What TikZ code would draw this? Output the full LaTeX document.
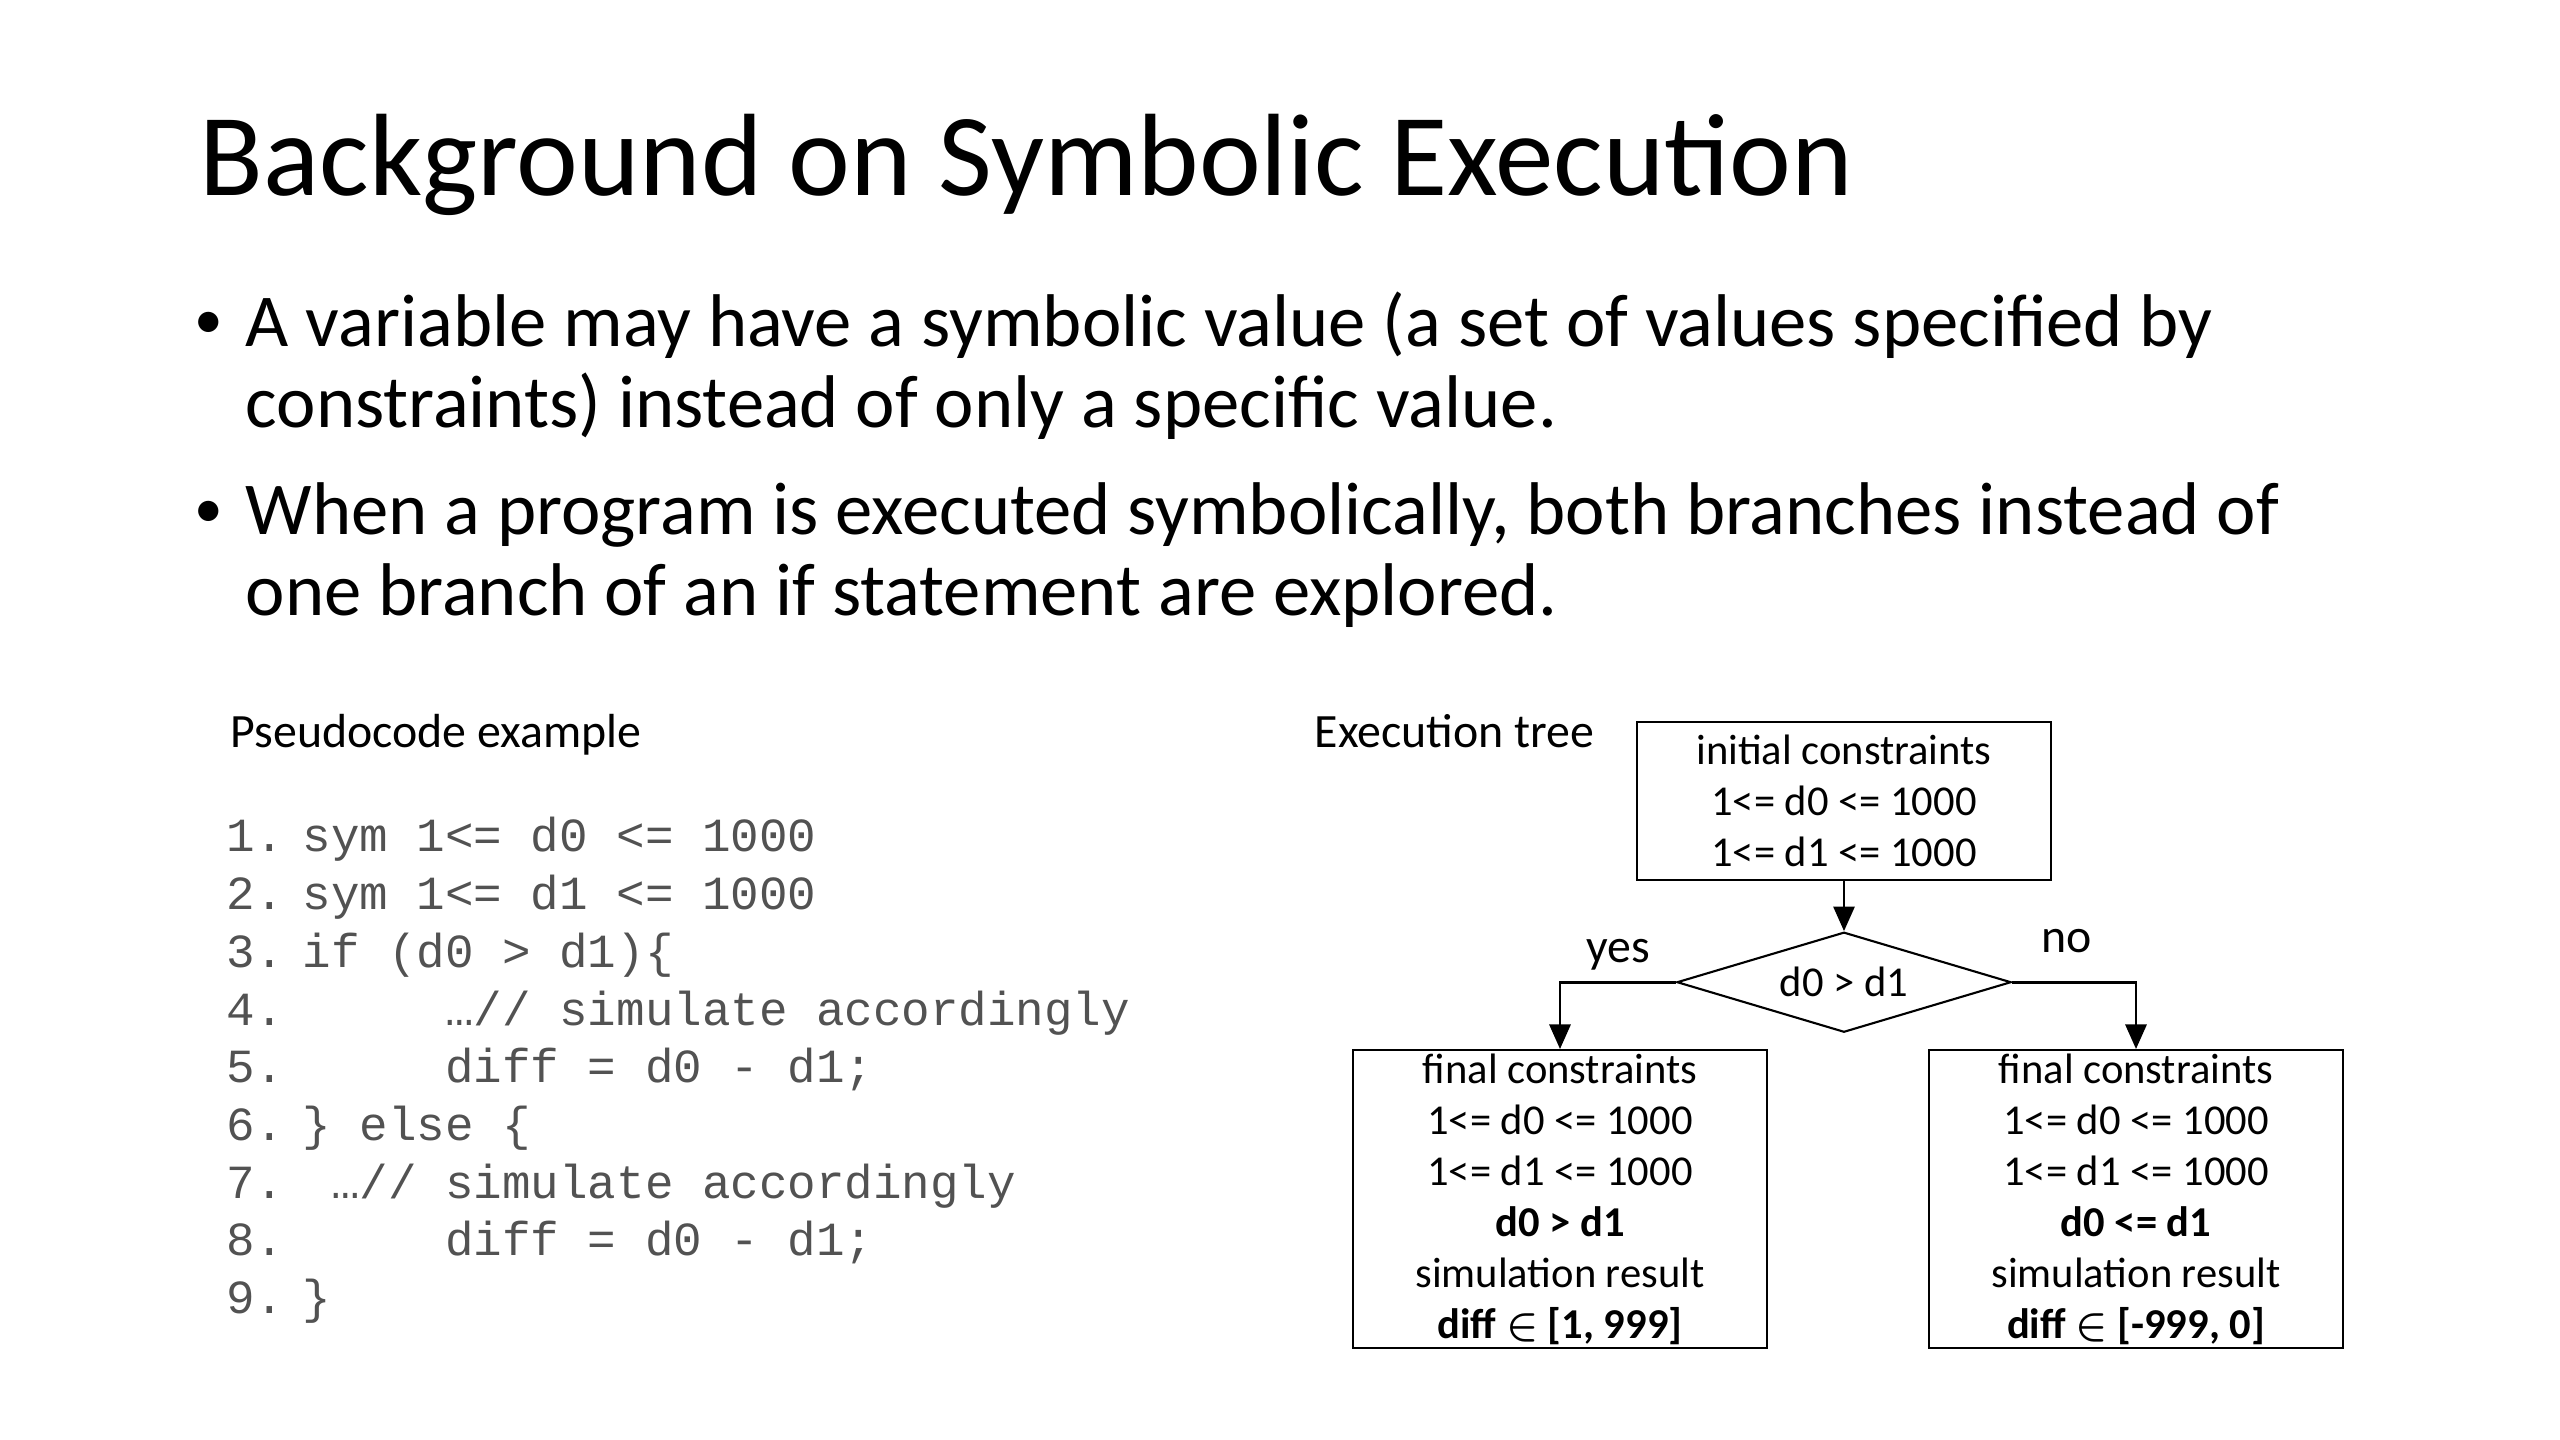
\documentclass[tikz,border=0pt]{standalone}
\usepackage{fontspec}
\setmainfont{Carlito}
\newfontfamily\codefont{Liberation Mono}
\usetikzlibrary{arrows.meta, positioning, shapes.geometric}

\tikzset{
  treebox/.style={draw, line width=0.6pt, align=center, inner sep=1pt,
    minimum width=4.13cm, font=\fontsize{12.1}{14.5}\selectfont},
  decision/.style={draw, diamond, aspect=3.3, line width=0.6pt, inner sep=0pt,
    minimum width=3.34cm, minimum height=1.0cm, font=\fontsize{12.1}{14.5}\selectfont},
  codeline/.style={anchor=base west, inner sep=0pt, text=black!68,
    font=\codefont\fontsize{13.52}{16}\selectfont\frenchspacing},
  bullettext/.style={anchor=base west, inner sep=0pt, align=left,
    font=\fontsize{21.23}{23.2}\selectfont},
  bulletdot/.style={anchor=base west, inner sep=0pt, font=\fontsize{16.3}{16.3}\selectfont},
  caption/.style={anchor=base west, inner sep=0pt, font=\fontsize{13.6}{16}\selectfont},
  branch/.style={->, line width=0.8pt},
}

\begin{document}
\begin{tikzpicture}[x=0.01cm, y=-0.01cm, >={Triangle[length=7pt, width=6pt]}]
  \useasboundingbox (0,0) rectangle (2560,1440);
  % title and bullets (base of a two-line node is its last line)
  \node[anchor=base west, inner sep=0pt, font=\fontsize{33.3}{40}\selectfont] (title) at (199,196) {Background on Symbolic Execution};
  \node[bulletdot] (dot1) at (194,339) {•};
  \node[bullettext] (item1) at (245,428) {A variable may have a symbolic value (a set of values specified by\\constraints) instead of only a specific value.};
  \node[bulletdot] (dot2) at (194,528) {•};
  \node[bullettext] (item2) at (245,616) {When a program is executed symbolically, both branches instead of\\one branch of an if statement are explored.};
  % pseudocode listing: line number, then the statement
  \node[caption] (codehead) at (230,748) {Pseudocode example};
  \foreach \i/\txt in {1/{sym 1<= d0 <= 1000},
                       2/{sym 1<= d1 <= 1000},
                       3/{if (d0 > d1)\{},
                       4/{\ \ \ \ \ …// simulate accordingly},
                       5/{\ \ \ \ \ diff = d0 - d1;},
                       6/{\} else \{},
                       7/{\ …// simulate accordingly},
                       8/{\ \ \ \ \ diff = d0 - d1;},
                       9/{\}}} {
    \node[codeline] (num\i) at (226,{852+57.7*(\i-1)}) {\i.};
    \node[codeline] (code\i) at (302,{852+57.7*(\i-1)}) {\txt};
  }
  % execution tree
  \node[caption] (treehead) at (1314,748) {Execution tree};
  \node[treebox, minimum height=1.58cm] (init) at (1844,801) {initial constraints\\1<= d0 <= 1000\\1<= d1 <= 1000};
  \node[decision, below=0.5cm of init] (cond) {d0 > d1};
  \node[treebox, minimum height=2.97cm] (yesbox) at (1560,1199)
    {final constraints\\1<= d0 <= 1000\\1<= d1 <= 1000\\\textbf{d0 > d1}\\simulation result\\\textbf{diff \boldmath$\in$ [1, 999]}};
  \node[treebox, minimum height=2.97cm] (nobox) at (2136,1199)
    {final constraints\\1<= d0 <= 1000\\1<= d1 <= 1000\\\textbf{d0 <= d1}\\simulation result\\\textbf{diff \boldmath$\in$ [-999, 0]}};
  \draw[branch] (init) -- (cond);
  \draw[branch] (cond.west) -| node[pos=0.25, anchor=base, yshift=5.7pt, font=\fontsize{13.6}{16}\selectfont] {yes} (yesbox.north);
  \draw[branch] (cond.east) -| node[pos=0.22, anchor=base, yshift=8.5pt, font=\fontsize{13.6}{16}\selectfont] {no} (nobox.north);
\end{tikzpicture}
\end{document}
